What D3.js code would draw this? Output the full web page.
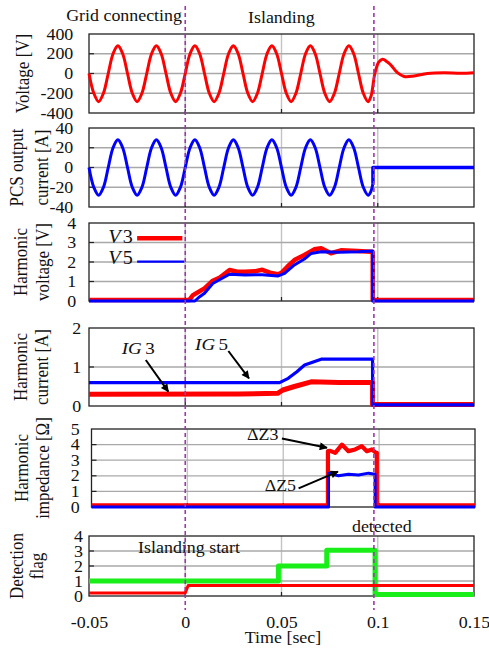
<!DOCTYPE html>
<html>
<head>
<meta charset="utf-8">
<script src="https://cdn.jsdelivr.net/npm/d3@7"></script>
<style>
body { margin: 0; background: #fff; }
text { font-family: "Liberation Serif", "Times New Roman", serif; fill: #111; }
</style>
</head>
<body>
<div id="chart"></div>
<script>
// time axis
var timeTicks = [-0.05, 0, 0.05, 0.1, 0.15];
var timeLabels = ["-0.05", "0", "0.05", "0.1", "0.15"];
var eventTimes = [0, 0.098];

// y tick labels of each panel
var voltTicks = [-400, -200, 0, 200, 400];
var currTicks = [-40, -20, 0, 20, 40];
var hvTicks = [0, 1, 2, 3, 4];
var hcTicks = [0, 1, 2];
var hzTicks = [0, 1, 2, 3, 4, 5];
var flagTicks = [0, 1, 2, 3, 4];

// voltage [V] (read every 1/8 cycle, then the islanding transient)
var voltT = [-0.05, -0.0475, -0.045, -0.0425, -0.04, -0.0375, -0.035, -0.0325,
  -0.03, -0.0275, -0.025, -0.0225, -0.02, -0.0175, -0.015, -0.0125,
  -0.01, -0.0075, -0.005, -0.0025, 0, 0.0025, 0.005, 0.0075,
  0.01, 0.0125, 0.015, 0.0175, 0.02, 0.0225, 0.025, 0.0275,
  0.03, 0.0325, 0.035, 0.0375, 0.04, 0.0425, 0.045, 0.0475,
  0.05, 0.0525, 0.055, 0.0575, 0.06, 0.0625, 0.065, 0.0675,
  0.07, 0.0725, 0.075, 0.0775, 0.08, 0.0825, 0.085, 0.0875,
  0.09, 0.0925, 0.095,
  0.0965, 0.0985, 0.1005, 0.1025, 0.1048, 0.1068, 0.1102, 0.1137, 0.1189, 0.1258, 0.1344, 0.1431, 0.15];
var voltV = [0, -200, -285, -200, 0, 200, 280, 200,
  0, -200, -285, -200, 0, 200, 280, 200,
  0, -200, -285, -200, 0, 200, 280, 200,
  0, -200, -285, -200, 0, 200, 280, 200,
  0, -200, -285, -200, 0, 200, 280, 200,
  0, -200, -285, -200, 0, 200, 280, 200,
  0, -200, -285, -200, 0, 200, 280, 200,
  0, -200, -285,
  -230, 0, 115, 145, 120, 86, 8, -30, -25, 0, 8, 2, 8];

// PCS output current [A]
var currT = voltT.slice(0, 59).concat([0.0965, 0.0975]);
var currA = [0, -20, -28, -20, 0, 20, 28, 20,
  0, -20, -28, -20, 0, 20, 28, 20,
  0, -20, -28, -20, 0, 20, 28, 20,
  0, -20, -28, -20, 0, 20, 28, 20,
  0, -20, -28, -20, 0, 20, 28, 20,
  0, -20, -28, -20, 0, 20, 28, 20,
  0, -20, -28, -20, 0, 20, 28, 20,
  0, -20, -28,
  -24, -16];
var currOffT = [0.0975, 0.0975, 0.15];
var currOffA = [-16, 0, 0];

// harmonic voltage [V]
var v3T = [-0.05, 0.002, 0.004, 0.0075, 0.010, 0.0143, 0.018, 0.023, 0.027, 0.031, 0.036, 0.040,
  0.044, 0.048, 0.050, 0.053, 0.0567, 0.0619, 0.067, 0.0706, 0.0757, 0.0809, 0.0894, 0.0965,
  0.0974, 0.0974, 0.15];
var v3V = [0.05, 0.05, 0.3, 0.5, 0.65, 1.04, 1.2, 1.59, 1.5, 1.5, 1.52, 1.6,
  1.45, 1.37, 1.45, 1.76, 2.1, 2.36, 2.65, 2.7, 2.45, 2.6, 2.56, 2.53,
  2.5, 0.05, 0.05];
var v5T = [-0.05, 0.005, 0.0075, 0.010, 0.0143, 0.018, 0.023, 0.031, 0.040, 0.048, 0.0516,
  0.0567, 0.0619, 0.0654, 0.0706, 0.08, 0.09, 0.0974, 0.0974, 0.15];
var v5V = [0.0, 0.0, 0.22, 0.4, 0.9, 1.1, 1.37, 1.33, 1.35, 1.28, 1.42,
  1.85, 2.15, 2.44, 2.53, 2.5, 2.52, 2.56, 0.0, 0.0];

// harmonic current [A]
var ig3T = [-0.05, 0.028, 0.048, 0.0507, 0.0567, 0.0654, 0.08, 0.0973, 0.0973, 0.15];
var ig3A = [0.3, 0.31, 0.325, 0.41, 0.5, 0.62, 0.6, 0.6, 0.04, 0.04];
var ig5T = [-0.05, 0.049, 0.0535, 0.058, 0.062, 0.0706, 0.0973, 0.0973, 0.15];
var ig5A = [0.6, 0.6, 0.71, 0.88, 1.05, 1.2, 1.2, 0.03, 0.03];

// harmonic impedance [ohm]
var dz3T = [-0.05, 0.0733, 0.0733, 0.0745, 0.0771, 0.0806, 0.0840, 0.0875, 0.0910, 0.0936,
  0.0962, 0.0984, 0.0988, 0.0988, 0.15];
var dz3V = [0.1, 0.1, 3.58, 3.6, 3.47, 4.0, 3.58, 3.69, 3.9, 3.58, 3.69, 3.47, 3.47, 0.1, 0.1];
var dz5T = [-0.05, 0.0736, 0.0736, 0.0788, 0.0840, 0.0893, 0.0945, 0.0979, 0.0979, 0.15];
var dz5V = [0.0, 0.0, 2.17, 2.0, 2.1, 2.05, 2.17, 2.1, 0.0, 0.0];

// detection flag
var flagGT = [-0.05, 0.0484, 0.0484, 0.0735, 0.0735, 0.0986, 0.0986, 0.15];
var flagGV = [1, 1, 2, 2, 3.05, 3.05, 0.1, 0.1];
var flagRT = [-0.05, 0.0, 0.0015, 0.15];
var flagRV = [0.2, 0.2, 0.7, 0.7];

var W = 489, H = 654;
var SX = 1.12; // the figure's lettering is a bit wide

var svg = d3.select("#chart").append("svg").attr("width", W).attr("height", H);

svg.append("defs").append("marker")
    .attr("id", "arrow")
    .attr("viewBox", "0 0 10 10")
    .attr("refX", 9).attr("refY", 5)
    .attr("markerWidth", 10).attr("markerHeight", 8)
    .attr("markerUnits", "userSpaceOnUse")
    .attr("orient", "auto")
    .append("path").attr("d", "M0,0L10,5L0,10z").attr("fill", "#000");

var panels = [
    {top: 34, bottom: 113, left: 89, right: 474, domain: [-400, 400], ticks: voltTicks, pad: 14,
        title: ["Voltage [V]"], titleX: [29]},
    {top: 128, bottom: 207, left: 89, right: 474, domain: [-40, 40], ticks: currTicks, pad: 14,
        title: ["PCS output", "current [A]"], titleX: [22.7, 47.5]},
    {top: 223, bottom: 301, left: 89, right: 474, domain: [0, 4], ticks: hvTicks, pad: 11.5,
        title: ["Harmonic", "voltage [V]"], titleX: [26.7, 49]},
    {top: 328, bottom: 406, left: 89, right: 474, domain: [0, 2], ticks: hcTicks, pad: 7,
        title: ["Harmonic", "current [A]"], titleX: [26.7, 47.5]},
    {top: 429, bottom: 507, left: 91.5, right: 475, domain: [0, 5], ticks: hzTicks, pad: 10.5,
        title: ["Harmonic", "impedance [\u03a9]"], titleX: [28, 49]},
    {top: 536, bottom: 596, left: 89, right: 474, domain: [0, 4], ticks: flagTicks, pad: 5.5,
        title: ["Detection", "flag"], titleX: [23, 43]}
];

panels.forEach(function (p) {
    p.x = d3.scaleLinear().domain([-0.05, 0.15]).range([p.left, p.right]);
    p.y = d3.scaleLinear().domain(p.domain).range([p.bottom, p.top]);
});

function addText(x, y, parts, size, anchor) {
    var t = svg.append("text")
        .attr("transform", "translate(" + x + "," + y + ") scale(" + SX + ",1)")
        .attr("text-anchor", anchor || "start")
        .style("font-size", size + "px");
    parts.forEach(function (part) {
        var s = t.append("tspan").text(part[0]);
        if (part[1]) s.style("font-style", "italic");
        if (part[2]) s.attr("dx", part[2]);
    });
    return t;
}

function drawFrame(p) {
    var g = svg.append("g");
    var inner = p.ticks.slice(1, -1);
    var innerT = timeTicks.slice(1, -1);

    g.selectAll(".vg").data(innerT).enter().append("line")
        .attr("x1", function (d) { return p.x(d); })
        .attr("x2", function (d) { return p.x(d); })
        .attr("y1", p.top).attr("y2", p.bottom)
        .attr("stroke", "#c4c4c4").attr("stroke-width", 1.4);

    g.selectAll(".hg").data(inner).enter().append("line")
        .attr("x1", p.left).attr("x2", p.right)
        .attr("y1", function (d) { return p.y(d); })
        .attr("y2", function (d) { return p.y(d); })
        .attr("stroke", "#a8a8a8").attr("stroke-width", 1.3);

    // inward ticks
    g.selectAll(".yt").data(inner).enter().append("line")
        .attr("x1", p.left).attr("x2", p.left + 5)
        .attr("y1", function (d) { return p.y(d); })
        .attr("y2", function (d) { return p.y(d); })
        .attr("stroke", "#222").attr("stroke-width", 1.2);
    g.selectAll(".xt").data(innerT).enter().append("line")
        .attr("x1", function (d) { return p.x(d); })
        .attr("x2", function (d) { return p.x(d); })
        .attr("y1", p.bottom).attr("y2", p.bottom - 4)
        .attr("stroke", "#222").attr("stroke-width", 1.2);

    g.append("rect")
        .attr("x", p.left).attr("y", p.top)
        .attr("width", p.right - p.left).attr("height", p.bottom - p.top)
        .attr("fill", "none").attr("stroke", "#222").attr("stroke-width", 1.3);

    var yAxis = d3.axisLeft(p.y).tickValues(p.ticks).tickSize(0).tickPadding(p.pad).tickFormat(String);
    var ag = g.append("g").attr("transform", "translate(" + p.left + ",0)").call(yAxis);
    ag.select(".domain").remove();
    ag.selectAll("text")
        .attr("transform", "scale(" + SX + ",1)")
        .style("font-size", "16px")
        .style("font-family", "'Liberation Serif', 'Times New Roman', serif")
        .attr("fill", "#111");

    var cy = (p.top + p.bottom) / 2;
    p.title.forEach(function (line, i) {
        svg.append("text")
            .attr("transform", "translate(" + p.titleX[i] + "," + cy + ") scale(" + SX + ",1) rotate(-90)")
            .attr("text-anchor", "middle")
            .style("font-size", "17px")
            .text(line);
    });
}

function drawSeries(p, ts, vs, color, width, curve) {
    var line = d3.line()
        .x(function (d) { return p.x(d[0]); })
        .y(function (d) { return p.y(d[1]); })
        .curve(curve || d3.curveLinear);
    svg.append("path")
        .attr("d", line(d3.zip(ts, vs)))
        .attr("fill", "none")
        .attr("stroke", color)
        .attr("stroke-width", width)
        .attr("stroke-linejoin", "round");
}

function drawArrow(p, from, to) {
    svg.append("line")
        .attr("x1", p.x(from[0])).attr("y1", p.y(from[1]))
        .attr("x2", p.x(to[0])).attr("y2", p.y(to[1]))
        .attr("stroke", "#000").attr("stroke-width", 2)
        .attr("marker-end", "url(#arrow)");
}

panels.forEach(drawFrame);

var smooth = d3.curveCatmullRom.alpha(0.5);
var RED = "#ff0000", BLUE = "#0000ff", GREEN = "#19ee19";

drawSeries(panels[0], voltT, voltV, RED, 3, smooth);

drawSeries(panels[1], currT, currA, BLUE, 3, smooth);
drawSeries(panels[1], currOffT, currOffA, BLUE, 3.5);

drawSeries(panels[2], v3T, v3V, RED, 4.5);
drawSeries(panels[2], v5T, v5V, BLUE, 3);

drawSeries(panels[3], ig3T, ig3A, RED, 5);
drawSeries(panels[3], ig5T, ig5A, BLUE, 3.2);

drawSeries(panels[4], dz3T, dz3V, RED, 4.2);
drawSeries(panels[4], dz5T, dz5V, BLUE, 3);

drawSeries(panels[5], flagGT, flagGV, GREEN, 5);
drawSeries(panels[5], flagRT, flagRV, RED, 3);

// legend in harmonic voltage panel
var hv = panels[2];
drawSeries(hv, [-0.025, -0.0015], [3.22, 3.22], RED, 4.5);
drawSeries(hv, [-0.025, -0.0005], [2.02, 2.02], BLUE, 2.2);
addText(hv.x(-0.040), hv.y(2.96), [["V", true], ["3", false, 2]], 18);
addText(hv.x(-0.040), hv.y(1.88), [["V", true], ["5", false, 2]], 18);

// annotations
var hc = panels[3], hz = panels[4], fl = panels[5];
addText(hc.x(-0.033), hc.y(1.33), [["IG", true], ["3", false, 3]], 17);
drawArrow(hc, [-0.0205, 1.18], [-0.0088, 0.37]);
addText(hc.x(0.0051), hc.y(1.44), [["IG", true], ["5", false, 3]], 17);
drawArrow(hc, [0.0224, 1.41], [0.0331, 0.71]);

addText(hz.x(0.0311), hz.y(4.3), [["\u0394Z3", false]], 16);
drawArrow(hz, [0.0493, 4.39], [0.0728, 3.8]);
addText(hz.x(0.0403), hz.y(1.03), [["\u0394Z5", false]], 16);
drawArrow(hz, [0.058, 1.19], [0.0785, 2.27]);

addText(fl.x(-0.0245), fl.y(2.85), [["Islanding start", false]], 16);
addText(fl.x(0.0866), fl.y(4.27), [["detected", false]], 16);

// phase titles
var vp = panels[0];
addText(vp.x(-0.0017), 20.5, [["Grid connecting", false]], 16, "end");
addText(vp.x(0.0326), 22.5, [["Islanding", false]], 16);

// time axis
var xAxis = d3.axisBottom(fl.x).tickValues(timeTicks).tickSize(0).tickPadding(20.3)
    .tickFormat(function (d, i) { return timeLabels[i]; });
var xg = svg.append("g").attr("transform", "translate(0," + fl.bottom + ")").call(xAxis);
xg.select(".domain").remove();
xg.selectAll("text")
    .attr("transform", "scale(" + SX + ",1)")
    .style("font-size", "16px")
    .style("font-family", "'Liberation Serif', 'Times New Roman', serif")
    .attr("fill", "#111");
addText((fl.left + fl.right) / 2 + 1.5, 643, [["Time [sec]", false]], 16, "middle");

// event markers
svg.selectAll(".ev").data(eventTimes).enter().append("line")
    .attr("x1", function (d) { return vp.x(d); })
    .attr("x2", function (d) { return vp.x(d); })
    .attr("y1", 6).attr("y2", 610)
    .attr("stroke", "#9a3aa8").attr("stroke-width", 1.6)
    .attr("stroke-dasharray", "4,3");
</script>
</body>
</html>
